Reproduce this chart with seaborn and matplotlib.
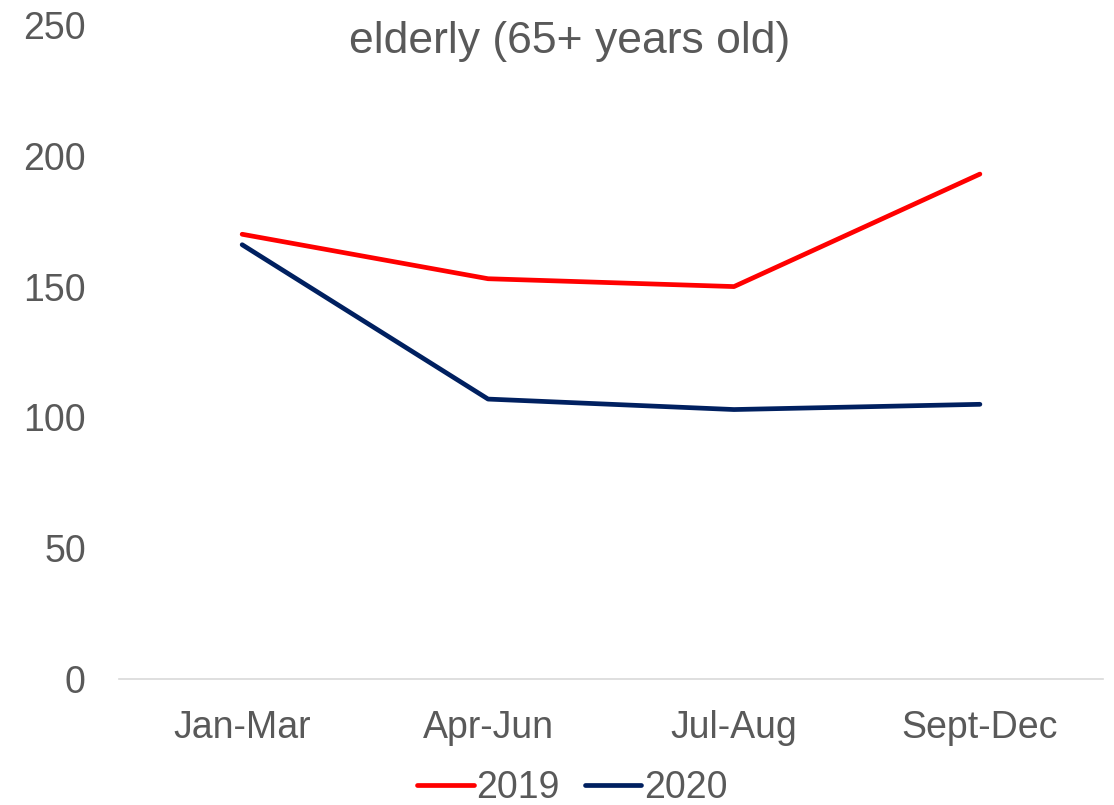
import matplotlib
matplotlib.use("Agg")
import matplotlib.pyplot as plt
import numpy as np
import pandas as pd
import seaborn as sns

periods = ['Jan-Mar', 'Apr-Jun', 'Jul-Aug', 'Sept-Dec']
values_2019 = [170, 153, 150, 193]
values_2020 = [166, 107, 103, 105]
years = ['2019', '2020']
colors = ['#FF0000', '#002060']

df = pd.DataFrame({
    'period': periods * 2,
    'x': list(np.arange(len(periods)) + 0.5) * 2,
    'value': values_2019 + values_2020,
    'year': [years[0]] * 4 + [years[1]] * 4,
})

sns.set_style('white')
plt.rcParams['font.family'] = ['Liberation Sans', 'DejaVu Sans']

fig = plt.figure(figsize=(11.14, 8.05), dpi=100)
ax = fig.add_axes([0.107, 0.1565, 0.883, 0.8125])

sns.lineplot(data=df, x='x', y='value', hue='year', palette=colors,
             linewidth=3.4, ax=ax, legend=False)

ax.set_xlim(0, 4)
ax.set_ylim(0, 250)
ax.set_yticks(range(0, 251, 50))
ax.set_xticks(np.arange(len(periods)) + 0.5)
ax.set_xticklabels(periods)
ax.tick_params(axis='both', labelsize=27, labelcolor='#595959', length=0)
ax.tick_params(axis='x', pad=22)
ax.tick_params(axis='y', pad=24)
ax.set_xlabel('')
ax.set_ylabel('')
for s in ['top', 'right', 'left']:
    ax.spines[s].set_visible(False)
ax.spines['bottom'].set_color('#D9D9D9')
ax.spines['bottom'].set_linewidth(1.2)

fig.text(0.511, 0.948, 'elderly (65+ years old)', ha='center', va='center',
         fontsize=32, color='#595959')

handles = [plt.Line2D([], [], color=c, linewidth=3.4) for c in colors]
fig.legend(handles, years, loc='center', bbox_to_anchor=(0.514, 0.021), ncol=2,
           frameon=False, fontsize=27, labelcolor='#595959', handlelength=1.5,
           handletextpad=0.08, columnspacing=0.67, borderpad=0)

fig.savefig('out.png', dpi=100)
